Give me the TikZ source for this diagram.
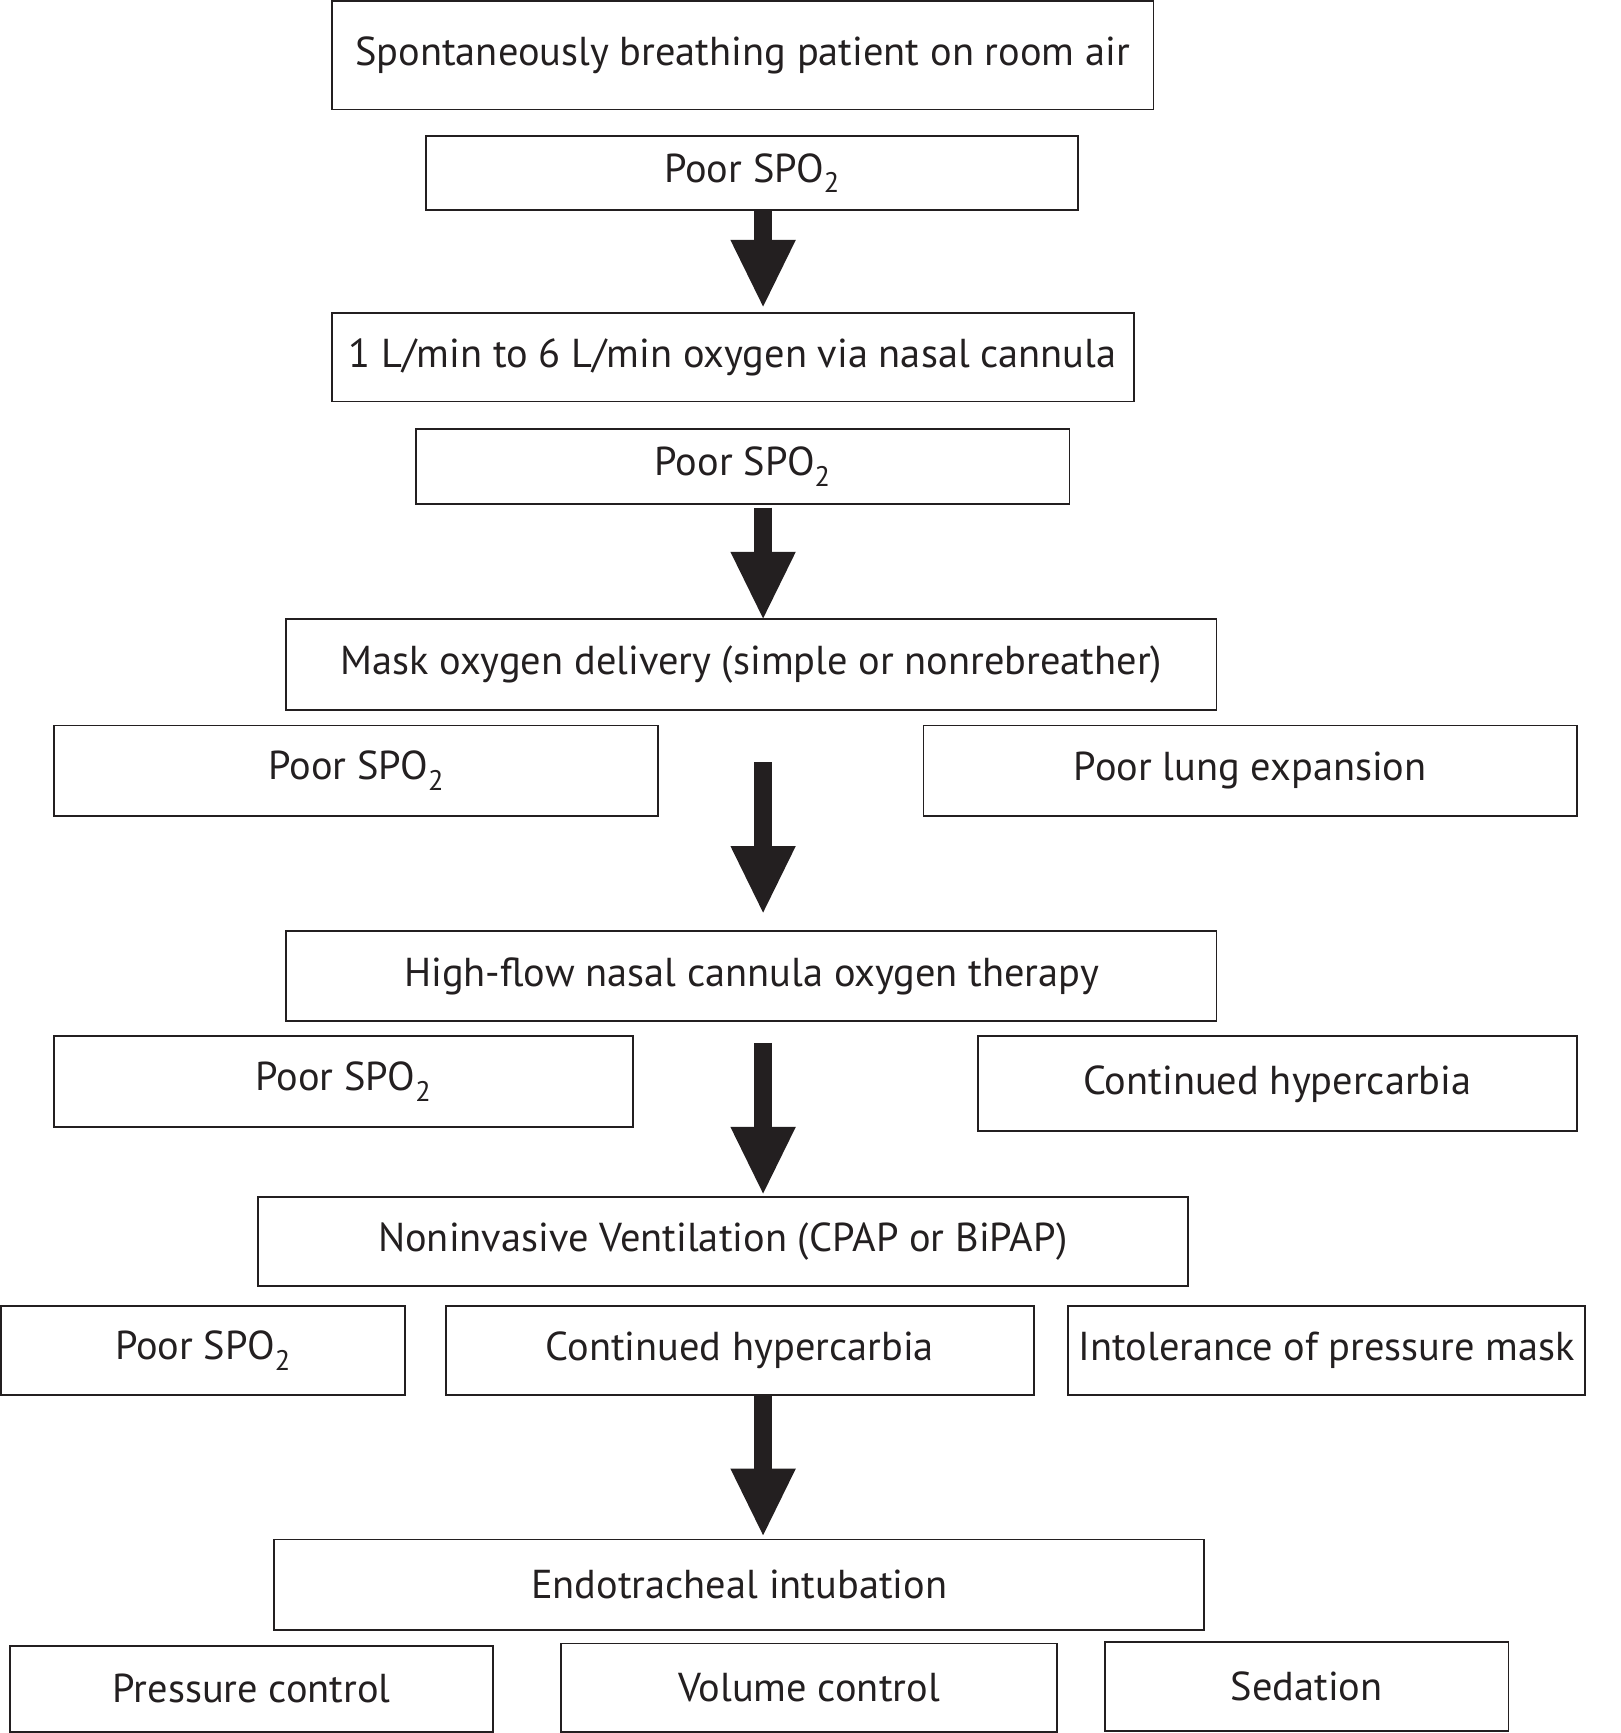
\documentclass[tikz,border=0pt]{standalone}
\usepackage{fontspec}
\setmainfont{PT Sans}
\usetikzlibrary{arrows.meta}
\definecolor{ink}{HTML}{231F20}
\begin{document}
\begin{tikzpicture}[x=1pt,y=-1pt,
 box/.style={draw=ink,line width=1.7pt,inner sep=0pt,font=\fontsize{36.5}{42}\selectfont,text=ink},
 arr/.style={ink,line width=16pt,-{Triangle[width=54pt,length=62pt]}}]
\useasboundingbox (0,0) rectangle (1465,1567);
\node[box,minimum width=743,minimum height=98] (n1) at (671.5,50) {Spontaneously breathing patient on room air};
\node[box,minimum width=590,minimum height=67] (n2) at (680,156.5) {Poor SPO\textsubscript{2}};
\node[box,minimum width=725,minimum height=80] (n3) at (662.5,323) {1 L/min to 6 L/min oxygen via nasal cannula};
\node[box,minimum width=591,minimum height=68] (n4) at (671.5,422) {Poor SPO\textsubscript{2}};
\node[box,minimum width=841,minimum height=82] (n5) at (679.5,601) {Mask oxygen delivery (simple or nonrebreather)};
\node[box,minimum width=546,minimum height=82] (n6) at (322,697) {Poor SPO\textsubscript{2}};
\node[box,minimum width=591,minimum height=82] (n7) at (1130.5,697) {Poor lung expansion};
\node[box,minimum width=841,minimum height=81] (n8) at (679.5,882.5) {High-flow nasal cannula oxygen therapy};
\node[box,minimum width=523,minimum height=82] (n9) at (310.5,978) {Poor SPO\textsubscript{2}};
\node[box,minimum width=542,minimum height=86] (n10) at (1155,980) {Continued hypercarbia};
\node[box,minimum width=841,minimum height=81] (n11) at (653.5,1122.5) {Noninvasive Ventilation (CPAP or BiPAP)};
\node[box,minimum width=365,minimum height=80] (n12) at (183.5,1221) {Poor SPO\textsubscript{2}};
\node[box,minimum width=532,minimum height=80] (n13) at (669,1221) {Continued hypercarbia};
\node[box,minimum width=467,minimum height=80] (n14) at (1199.5,1221) {Intolerance of pressure mask};
\node[box,minimum width=841,minimum height=82] (n15) at (668.5,1433) {Endotracheal intubation};
\node[box,minimum width=437,minimum height=78] (n16) at (227.5,1527) {Pressure control};
\node[box,minimum width=449,minimum height=80] (n17) at (731.5,1526) {Volume control};
\node[box,minimum width=365,minimum height=80] (n18) at (1181.5,1525) {Sedation};
\coordinate (a1) at (690,190); \coordinate (b1) at (690,279);
\coordinate (a2) at (690,459); \coordinate (b2) at (690,561);
\coordinate (a3) at (690,689); \coordinate (b3) at (690,827);
\coordinate (a4) at (690,943); \coordinate (b4) at (690,1081);
\coordinate (a5) at (690,1262); \coordinate (b5) at (690,1390);
\draw[arr] (a1) -- (b1);
\draw[arr] (a2) -- (b2);
\draw[arr] (a3) -- (b3);
\draw[arr] (a4) -- (b4);
\draw[arr] (a5) -- (b5);
\end{tikzpicture}
\end{document}
